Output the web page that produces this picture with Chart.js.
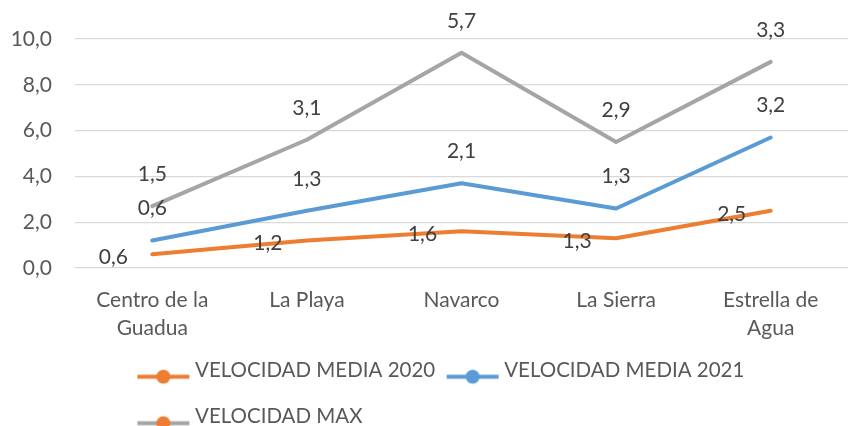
<!DOCTYPE html>
<html><head><meta charset="utf-8">
<script src="https://cdn.jsdelivr.net/npm/chart.js@4.4.0/dist/chart.umd.min.js"></script>
<style>html,body{margin:0;padding:0;background:#fff}#wrap{width:848px;height:426px;position:relative}</style>
</head><body><div id="wrap"><canvas id="c"></canvas></div>
<script>
// ---- data ----
const categories = [['Centro de la', 'Guadua'], 'La Playa', 'Navarco', 'La Sierra', ['Estrella de', 'Agua']];
const seriesNames = ['VELOCIDAD MEDIA 2020', 'VELOCIDAD MEDIA 2021', 'VELOCIDAD MAX'];
const media2020 = [0.6, 1.2, 1.6, 1.3, 2.5];
const media2021 = [0.6, 1.3, 2.1, 1.3, 3.2];
const velocidadMax = [1.5, 3.1, 5.7, 2.9, 3.3];
const yTickLabels = ['0,0', '2,0', '4,0', '6,0', '8,0', '10,0'];

// ---- styles ----
const FONT = 'Lato';
const lineColors = ['#ED7D31', '#5B9BD5', '#A5A5A5'];
const legendDotColors = ['#ED7D31', '#5B9BD5', '#ED7D31'];
const labelPos = ['left', 'above', 'above'];

function makeMarker(lineColor, dotColor) {
  const c = document.createElement('canvas');
  c.width = 66; c.height = 32;
  const g = c.getContext('2d');
  g.strokeStyle = lineColor; g.lineWidth = 4;
  g.beginPath(); g.moveTo(2, 22.5); g.lineTo(54, 22.5); g.stroke();
  g.fillStyle = dotColor;
  g.beginPath(); g.arc(28, 22.5, 7, 0, Math.PI * 2); g.fill();
  return c;
}
const markers = lineColors.map((c, i) => makeMarker(c, legendDotColors[i]));

const valueLabels = {
  id: 'valueLabels',
  afterDatasetsDraw(chart) {
    const ctx = chart.ctx;
    ctx.save();
    ctx.font = '21px ' + FONT;
    ctx.fillStyle = '#404040';
    ctx.textAlign = 'center';
    ctx.textBaseline = 'middle';
    chart.data.datasets.forEach((ds, di) => {
      const meta = chart.getDatasetMeta(di);
      meta.data.forEach((pt, i) => {
        const txt = ds.data[i].toFixed(1).replace('.', ',');
        const left = labelPos[di] === 'left';
        ctx.fillText(txt, pt.x + (left ? -39 : 0), pt.y + (left ? 3 : -32));
      });
    });
    ctx.restore();
  }
};

const legendLayout = {
  id: 'legendLayout',
  afterInit(chart) {
    const lg = chart.legend;
    const f = lg.fit;
    lg.fit = function () {
      const m = this.maxWidth;
      this.maxWidth = Math.min(m, 700);
      f.call(this);
      this.maxWidth = m;
    };
  },
  afterLayout(chart) {
    const lg = chart.legend;
    const h = lg.height;
    lg.left = 126; lg.width = 700; lg.right = 826;
    lg.top = 334; lg.bottom = 334 + h;
  }
};

const mkDs = (i, data) => ({
  label: seriesNames[i], data,
  borderColor: lineColors[i], backgroundColor: lineColors[i],
  borderWidth: 4, pointRadius: 0, tension: 0, fill: false,
  borderCapStyle: 'round', borderJoinStyle: 'round'
});

new Chart(document.getElementById('c'), {
  type: 'line',
  data: {
    labels: categories,
    datasets: [mkDs(0, media2020), mkDs(1, media2021), mkDs(2, velocidadMax)]
  },
  options: {
    responsive: true, maintainAspectRatio: false, animation: false, devicePixelRatio: 1,
    layout: { padding: { top: 39, right: -3, bottom: -25, left: 0 } },
    plugins: {
      tooltip: { enabled: false },
      legend: {
        position: 'bottom', align: 'start',
        labels: {
          usePointStyle: true, pointStyleWidth: 32.75, padding: 26,
          color: '#595959', font: { family: FONT, size: 20.5 },
          generateLabels(chart) {
            const items = Chart.defaults.plugins.legend.labels.generateLabels(chart);
            items.forEach((it, i) => { it.pointStyle = markers[i]; });
            return items;
          }
        }
      }
    },
    scales: {
      x: {
        offset: true,
        grid: { display: false, drawTicks: false },
        border: { display: false },
        ticks: { color: '#595959', padding: 18, maxRotation: 0, autoSkip: false,
                 font: { family: FONT, size: 21, lineHeight: 1.33 } },
        afterFit(axis) { axis.height = 80; }
      },
      y: {
        stacked: true, min: 0, max: 10,
        grid: { color: '#D9D9D9', lineWidth: 1.3, drawTicks: false },
        border: { display: false },
        ticks: { stepSize: 2, padding: 23, color: '#595959',
                 font: { family: FONT, size: 21 },
                 callback: (v, i) => yTickLabels[i] },
        afterFit(axis) { axis.width = 75; }
      }
    }
  },
  plugins: [valueLabels, legendLayout]
});
</script></body></html>
